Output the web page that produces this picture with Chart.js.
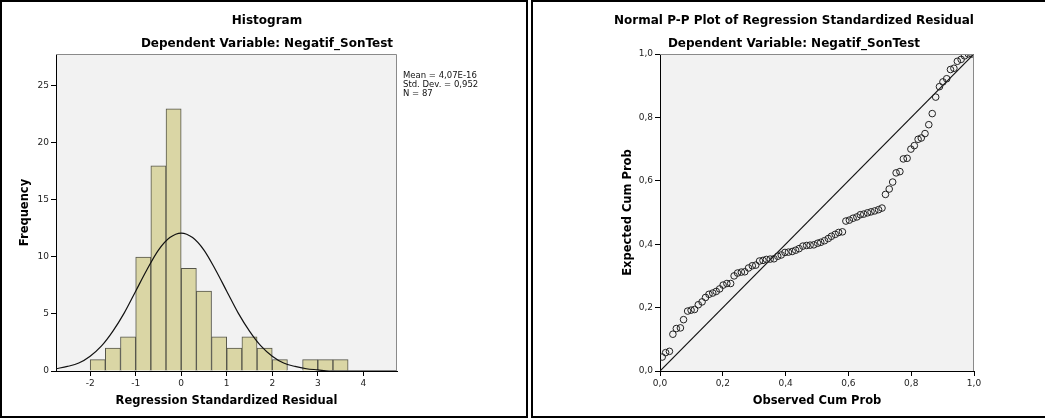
<!DOCTYPE html>
<html>
<head>
<meta charset="utf-8">
<title>Histogram and Normal P-P Plot</title>
<script src="https://cdn.jsdelivr.net/npm/chart.js@4.4.1/dist/chart.umd.min.js"></script>
<style>
  body { margin: 0; width: 1045px; height: 420px; overflow: hidden; background: #fff; position: relative;
         font-family: "DejaVu Sans", sans-serif; }
  canvas { position: absolute; top: 0; }
  .panel { position: absolute; top: 0; height: 418px; border: 2px solid #000; box-sizing: border-box; pointer-events: none; }
  .title { position: absolute; text-align: center; font-weight: bold; font-size: 12px; line-height: 14px; color: #000; white-space: nowrap; }
  #stats { position: absolute; left: 403px; top: 71px; font-size: 8.5px; line-height: 9px; color: #111; white-space: nowrap; }
</style>
</head>
<body>
<canvas id="histChart" width="528" height="420" style="left:0"></canvas>
<canvas id="ppChart" width="514" height="420" style="left:531px"></canvas>

<div class="panel" style="left:0; width:528px"></div>
<div class="panel" style="left:531px; width:560px"></div>

<div class="title" style="left:0; width:534px; top:13px">Histogram</div>
<div class="title" style="left:0; width:534px; top:36px">Dependent Variable: Negatif_SonTest</div>
<div class="title" style="left:594px; width:400px; top:13px">Normal P-P Plot of Regression Standardized Residual</div>
<div class="title" style="left:594px; width:400px; top:36px">Dependent Variable: Negatif_SonTest</div>
<div id="stats">Mean = 4,07E-16<br>Std. Dev. = 0,952<br>N = 87</div>

<script>
// histogram: bin centres (width 1/3) and counts
var binCenters = [-1.833, -1.5, -1.167, -0.833, -0.5, -0.167, 0.167, 0.5, 0.833,
                  1.167, 1.5, 1.833, 2.167, 2.5, 2.833, 3.167, 3.5];
var frequency = [1, 2, 3, 10, 18, 23, 9, 7, 3, 2, 3, 2, 1, 0, 1, 1, 1];

// normal curve
var curveX = [-2.75, -2.5, -2.25, -2, -1.75, -1.5, -1.25, -1, -0.75, -0.5, -0.25, 0,
              0.25, 0.5, 0.75, 1, 1.25, 1.5, 1.75, 2, 2.25, 2.5, 2.75, 3, 3.25, 3.5, 3.75, 4, 4.25, 4.5, 4.75];
var curveY = [0.2, 0.4, 0.7, 1.3, 2.2, 3.5, 5.1, 7.0, 8.9, 10.6, 11.7, 12.1,
              11.7, 10.6, 8.9, 7.0, 5.1, 3.5, 2.2, 1.3, 0.7, 0.4, 0.2, 0.1, 0, 0, 0, 0, 0, 0, 0];

var residualTicks = [-2, -1, 0, 1, 2, 3, 4];
var frequencyTicks = [0, 5, 10, 15, 20, 25];

// P-P plot
var ppObserved = [0.007, 0.018, 0.030, 0.041, 0.052, 0.065, 0.075, 0.088, 0.099, 0.110,
                  0.122, 0.134, 0.145, 0.156, 0.168, 0.179, 0.190, 0.201, 0.213, 0.225,
                  0.236, 0.247, 0.259, 0.270, 0.282, 0.294, 0.305, 0.317, 0.328, 0.339,
                  0.351, 0.363, 0.375, 0.386, 0.398, 0.409, 0.421, 0.432, 0.443, 0.455,
                  0.467, 0.478, 0.490, 0.502, 0.512, 0.524, 0.536, 0.546, 0.558, 0.569,
                  0.581, 0.592, 0.603, 0.615, 0.627, 0.638, 0.649, 0.661, 0.672, 0.684,
                  0.696, 0.707, 0.718, 0.730, 0.741, 0.752, 0.764, 0.775, 0.787, 0.799,
                  0.810, 0.822, 0.832, 0.844, 0.856, 0.867, 0.878, 0.890, 0.901, 0.913,
                  0.925, 0.936, 0.947, 0.959, 0.970, 0.982, 0.993];
var ppExpected = [0.044, 0.058, 0.062, 0.116, 0.134, 0.136, 0.162, 0.189, 0.192, 0.194,
                  0.209, 0.218, 0.232, 0.242, 0.246, 0.251, 0.259, 0.271, 0.276, 0.276,
                  0.300, 0.309, 0.312, 0.313, 0.325, 0.332, 0.334, 0.347, 0.349, 0.352,
                  0.353, 0.354, 0.362, 0.366, 0.374, 0.375, 0.377, 0.381, 0.386, 0.394,
                  0.396, 0.397, 0.398, 0.403, 0.406, 0.411, 0.418, 0.425, 0.431, 0.437,
                  0.439, 0.473, 0.476, 0.482, 0.486, 0.493, 0.495, 0.499, 0.502, 0.505,
                  0.509, 0.514, 0.557, 0.574, 0.596, 0.625, 0.629, 0.669, 0.671, 0.700,
                  0.711, 0.731, 0.735, 0.749, 0.777, 0.812, 0.864, 0.897, 0.912, 0.922,
                  0.951, 0.955, 0.977, 0.983, 0.994, 1.000, 1.000];
var diagX = [0, 1];
var diagY = [0, 1];
var probTicks = [0, 0.2, 0.4, 0.6, 0.8, 1.0];

var tickFont = { family: 'DejaVu Sans', size: 9 };
var axisTitleFont = { family: 'DejaVu Sans', size: 11.5, weight: 'bold' };

// grey plot background with a thin frame, like SPSS
var plotBox = {
    id: 'plotBox',
    beforeDraw: function (chart) {
        var a = chart.chartArea, ctx = chart.ctx;
        ctx.save();
        ctx.fillStyle = '#f2f2f2';
        ctx.fillRect(a.left, a.top, a.right - a.left, a.bottom - a.top);
        ctx.restore();
    },
    afterDraw: function (chart) {
        var a = chart.chartArea, ctx = chart.ctx;
        ctx.save();
        ctx.strokeStyle = '#8a8a8a';
        ctx.lineWidth = 1;
        ctx.beginPath();
        ctx.moveTo(a.left, a.top + 0.5);
        ctx.lineTo(a.right - 0.5, a.top + 0.5);
        ctx.lineTo(a.right - 0.5, a.bottom);
        ctx.stroke();
        ctx.restore();
    }
};

function fixTicks(values) {
    return function (scale) {
        scale.ticks = values.map(function (v) { return { value: v }; });
    };
}

function axis(min, max, ticks, title, size, pos, fmt) {
    return {
        type: 'linear',
        min: min,
        max: max,
        offset: false,
        afterBuildTicks: fixTicks(ticks),
        afterFit: function (scale) {
            if (pos === 'x') scale.height = size; else scale.width = size;
        },
        grid: { display: true, drawOnChartArea: false, drawTicks: true, tickLength: 5, color: '#000', offset: false },
        border: { display: true, color: '#000', width: 1 },
        ticks: { font: tickFont, color: '#222', padding: 2, maxRotation: 0, autoSkip: false, callback: fmt },
        title: { display: true, text: title, font: axisTitleFont, color: '#000',
                 padding: pos === 'x' ? { top: 0, bottom: 4 } : { top: 10, bottom: 0 } }
    };
}

document.addEventListener('DOMContentLoaded', function () {
    var ctx = document.getElementById('histChart').getContext('2d');
    var histChart = new Chart(ctx, {
        type: 'bar',
        data: {
            datasets: [{
                type: 'line',
                order: 0,
                data: curveX.map(function (x, i) { return { x: x, y: curveY[i] }; }),
                borderColor: '#111',
                borderWidth: 1.2,
                pointRadius: 0,
                cubicInterpolationMode: 'monotone',
                fill: false
            }, {
                type: 'bar',
                order: 1,
                data: binCenters.map(function (x, i) { return { x: x, y: frequency[i] }; }),
                backgroundColor: '#dad6a5',
                borderColor: '#55554a',
                borderWidth: 1,
                barPercentage: 1,
                categoryPercentage: 1
            }]
        },
        options: {
            responsive: false,
            animation: false,
            layout: { padding: { top: 54, left: 8, right: 131, bottom: 8 } },
            plugins: { legend: { display: false }, tooltip: { enabled: false } },
            scales: {
                x: axis(-2.75, 4.74, residualTicks, 'Regression Standardized Residual', 41, 'x'),
                y: axis(0, 27.8, frequencyTicks, 'Frequency', 48, 'y')
            }
        },
        plugins: [plotBox]
    });

    var comma = function (v) { return v.toFixed(1).replace('.', ','); };
    var ctxPP = document.getElementById('ppChart').getContext('2d');
    var ppChart = new Chart(ctxPP, {
        type: 'scatter',
        data: {
            datasets: [{
                data: ppObserved.map(function (x, i) { return { x: x, y: ppExpected[i] }; }),
                borderColor: '#222',
                backgroundColor: 'rgba(0,0,0,0)',
                borderWidth: 1,
                pointRadius: 3.3
            }, {
                data: diagX.map(function (x, i) { return { x: x, y: diagY[i] }; }),
                showLine: true,
                borderColor: '#111',
                borderWidth: 1.2,
                pointRadius: 0
            }]
        },
        options: {
            responsive: false,
            animation: false,
            layout: { padding: { top: 54, left: 80, right: 71, bottom: 8 } },
            plugins: { legend: { display: false }, tooltip: { enabled: false } },
            scales: {
                x: axis(0, 1, probTicks, 'Observed Cum Prob', 41, 'x', comma),
                y: axis(0, 1, probTicks, 'Expected Cum Prob', 49, 'y', comma)
            }
        },
        plugins: [plotBox]
    });
});
</script>
</body>
</html>
